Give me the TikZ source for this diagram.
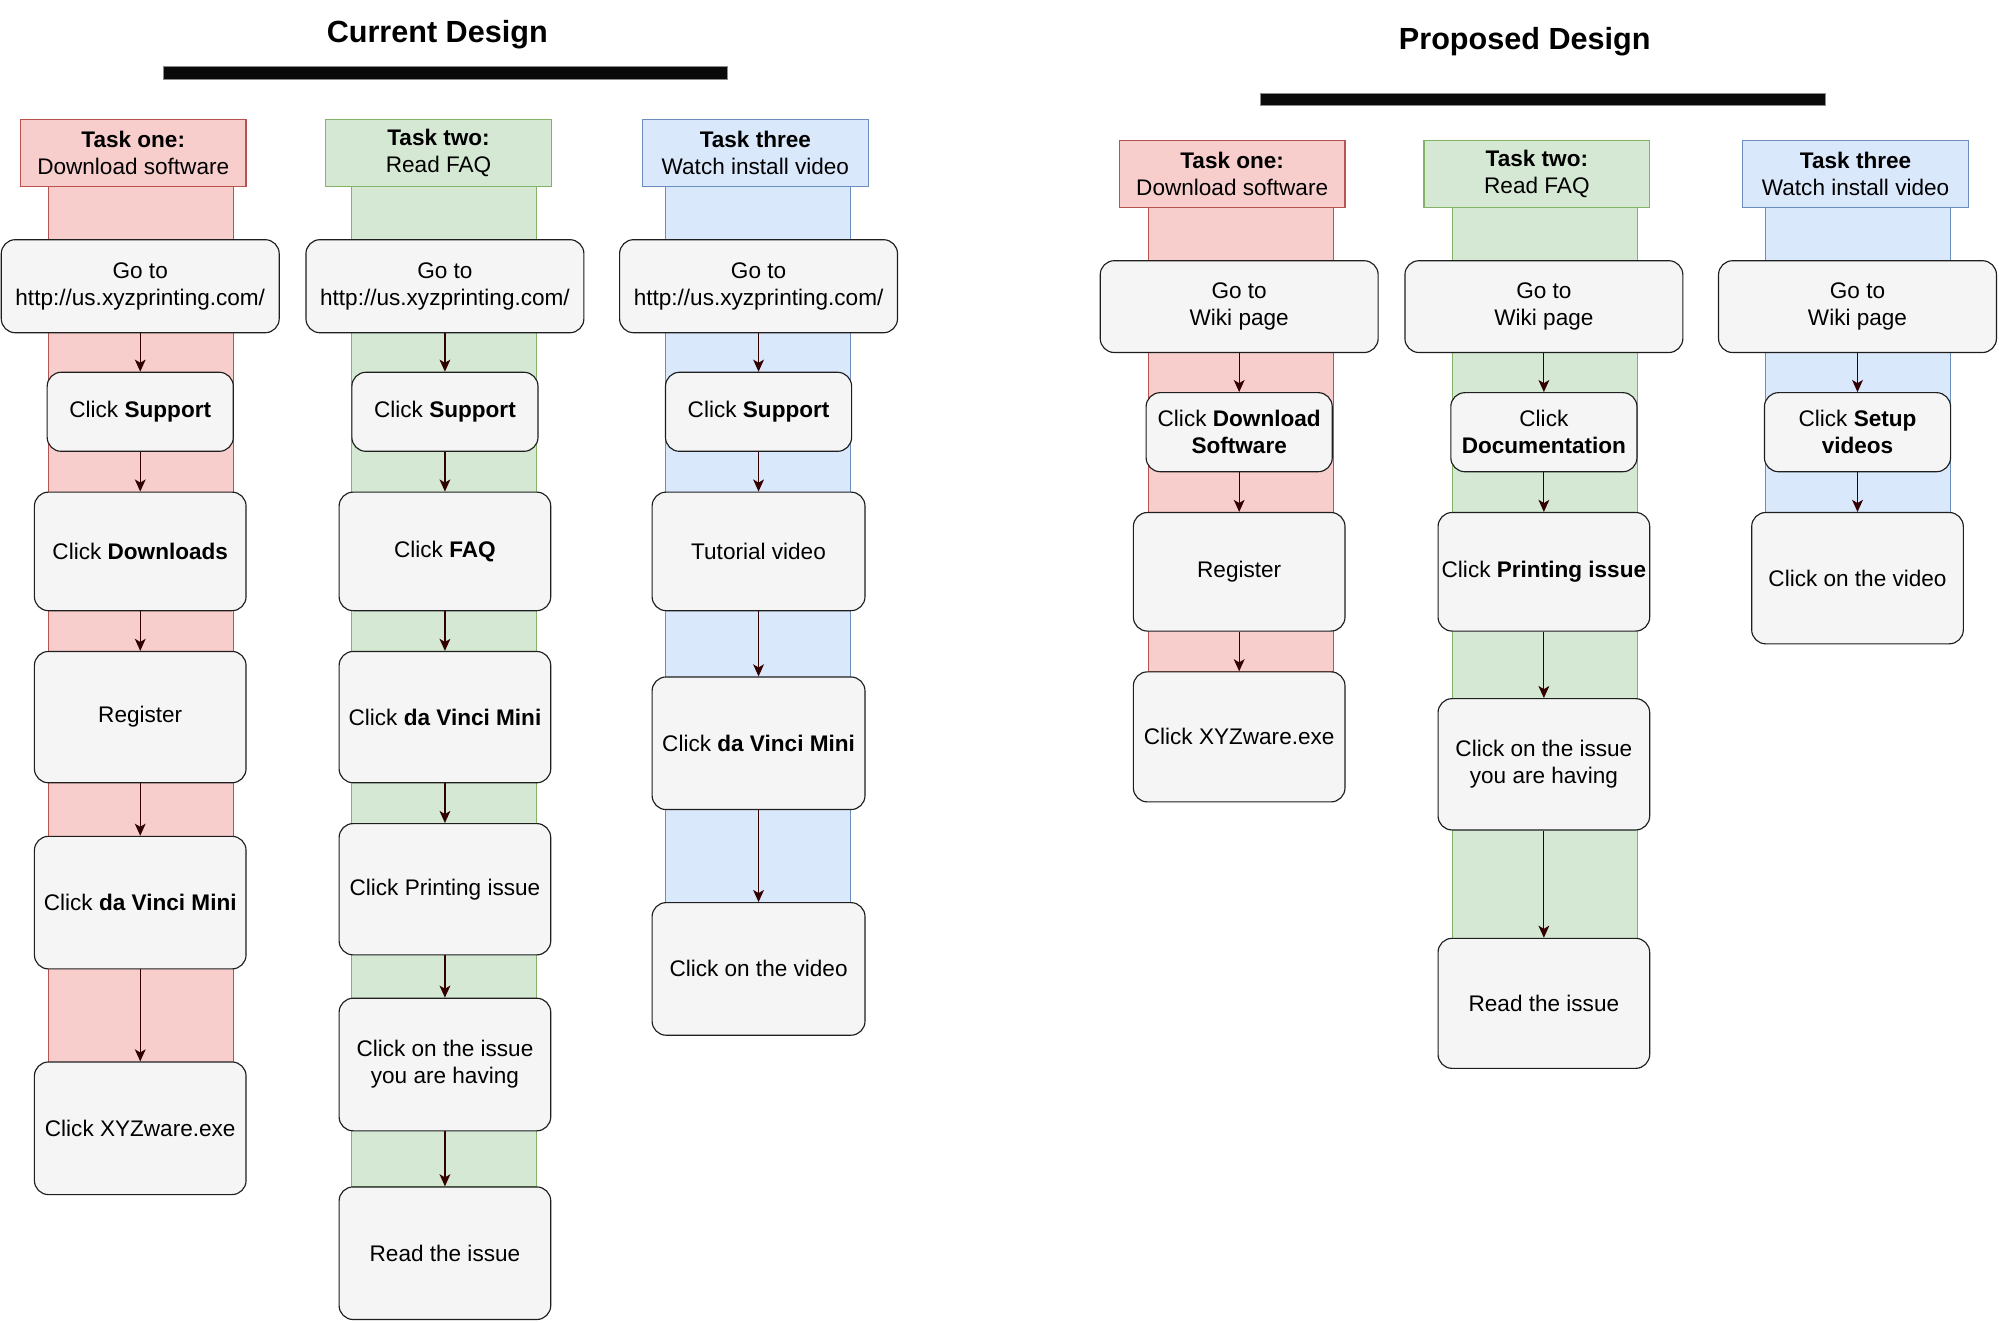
\documentclass[tikz,border=0pt]{standalone}
\usepackage{fontspec}
\setmainfont{Liberation Sans}
\usetikzlibrary{arrows.meta}
\definecolor{redfill}{HTML}{F8CECC}
\definecolor{redline}{HTML}{B85450}
\definecolor{greenfill}{HTML}{D5E8D4}
\definecolor{greenline}{HTML}{82B366}
\definecolor{bluefill}{HTML}{DAE8FC}
\definecolor{blueline}{HTML}{6C8EBF}
\definecolor{boxfill}{HTML}{F5F5F5}
\definecolor{boxline}{HTML}{1E1E1E}
\definecolor{arrowcol}{HTML}{330000}
\newcommand{\mkbox}[6]{\node[stepbox, minimum width=#4pt, minimum height=#5pt] (#1) at (#2,#3) {#6};}
\begin{document}
\begin{tikzpicture}[x=1pt,y=-1pt,
  every node/.style={font=\fontsize{17.7}{21.3}\selectfont, inner sep=0pt, align=center, text=black},
  stepbox/.style={draw=boxline, fill=boxfill, rounded corners=11pt, line width=0.9pt},
  hdrbox/.style={line width=0.9pt, minimum width=177pt, minimum height=52pt},
  titlefont/.style={font=\bfseries\fontsize{24}{28}\selectfont},
  barbox/.style={fill=black!96, draw=black!45, line width=0.8pt, minimum width=443pt, minimum height=10pt},
  lane/.style={line width=0.7pt},
  flow/.style={draw=arrowcol, line width=0.9pt, -{Stealth[length=9.5pt,width=8.5pt,inset=2.5pt]}}
]
\useasboundingbox (0,0) rectangle (1568,1037);
\fill[white] (0,0) rectangle (1568,1037);

% titles and bars
\node[titlefont] (t1) at (343,27) {Current Design};
\node[barbox] (bar1) at (349.5,57) {};
\node[titlefont] (t2) at (1196,32.5) {Proposed Design};
\node[barbox] (bar2) at (1210.5,78) {};

% lanes
\path[lane, fill=redfill, draw=redline] (38,146) rectangle (183,833);
\path[lane, fill=greenfill, draw=greenline] (276,146) rectangle (421,931);
\path[lane, fill=bluefill, draw=blueline] (522,146) rectangle (667,708);
\path[lane, fill=redfill, draw=redline] (901,162) rectangle (1046,527);
\path[lane, fill=greenfill, draw=greenline] (1139,162) rectangle (1284,736);
\path[lane, fill=bluefill, draw=blueline] (1385,162) rectangle (1530,402);

% headers
\node[hdrbox, fill=redfill, draw=redline] (c1h) at (104.5,120) {\textbf{Task one:}\\Download software};
\node[hdrbox, fill=greenfill, draw=greenline] (c2h) at (344,120) {\textbf{Task two:}\\Read FAQ};
\node[hdrbox, fill=bluefill, draw=blueline] (c3h) at (592.5,120) {\textbf{Task three}\\Watch install video};
\node[hdrbox, fill=redfill, draw=redline] (p1h) at (966.5,136.5) {\textbf{Task one:}\\Download software};
\node[hdrbox, fill=greenfill, draw=greenline] (p2h) at (1205.5,136.5) {\textbf{Task two:}\\Read FAQ};
\node[hdrbox, fill=bluefill, draw=blueline] (p3h) at (1455.5,136.5) {\textbf{Task three}\\Watch install video};

% current design, task one
\mkbox{c1a}{110}{224.5}{218}{73}{Go to\\http://us.xyzprinting.com/}
\mkbox{c1b}{110}{323}{146}{62}{Click \textbf{Support}}
\mkbox{c1c}{110}{432.5}{166}{93}{Click \textbf{Downloads}}
\mkbox{c1d}{110}{562.5}{166}{103}{Register}
\mkbox{c1e}{110}{708}{166}{104}{Click \textbf{da Vinci Mini}}
\mkbox{c1f}{110}{885}{166}{104}{Click XYZware.exe}
\draw[flow] (c1a) -- (c1b);
\draw[flow] (c1b) -- (c1c);
\draw[flow] (c1c) -- (c1d);
\draw[flow] (c1d) -- (c1e);
\draw[flow] (c1e) -- (c1f);

% current design, task two
\mkbox{c2a}{349}{224.5}{218}{73}{Go to\\http://us.xyzprinting.com/}
\mkbox{c2b}{349}{323}{146}{62}{Click \textbf{Support}}
\mkbox{c2c}{349}{432.5}{166}{93}{Click \textbf{FAQ}}
\mkbox{c2d}{349}{562.5}{166}{103}{Click \textbf{da Vinci Mini}}
\mkbox{c2e}{349}{697.5}{166}{103}{Click Printing issue}
\mkbox{c2f}{349}{835}{166}{104}{Click on the issue\\you are having}
\mkbox{c2g}{349}{983}{166}{104}{Read the issue}
\draw[flow] (c2a) -- (c2b);
\draw[flow] (c2b) -- (c2c);
\draw[flow] (c2c) -- (c2d);
\draw[flow] (c2d) -- (c2e);
\draw[flow] (c2e) -- (c2f);
\draw[flow] (c2f) -- (c2g);

% current design, task three
\mkbox{c3a}{595}{224.5}{218}{73}{Go to\\http://us.xyzprinting.com/}
\mkbox{c3b}{595}{323}{146}{62}{Click \textbf{Support}}
\mkbox{c3c}{595}{432.5}{167}{93}{Tutorial video}
\mkbox{c3d}{595}{583}{167}{104}{Click \textbf{da Vinci Mini}}
\mkbox{c3e}{595}{760}{167}{104}{Click on the video}
\draw[flow] (c3a) -- (c3b);
\draw[flow] (c3b) -- (c3c);
\draw[flow] (c3c) -- (c3d);
\draw[flow] (c3d) -- (c3e);

% proposed design, task one
\mkbox{p1a}{972}{240.5}{218}{72}{Go to\\Wiki page}
\mkbox{p1b}{972}{339}{146}{62}{Click \textbf{Download}\\\textbf{Software}}
\mkbox{p1c}{972}{448.5}{166}{93}{Register}
\mkbox{p1d}{972}{578}{166}{102}{Click XYZware.exe}
\draw[flow] (p1a) -- (p1b);
\draw[flow] (p1b) -- (p1c);
\draw[flow] (p1c) -- (p1d);

% proposed design, task two
\mkbox{p2a}{1211}{240.5}{218}{72}{Go to\\Wiki page}
\mkbox{p2b}{1211}{339}{146}{62}{Click\\\textbf{Documentation}}
\mkbox{p2c}{1211}{448.5}{166}{93}{Click \textbf{Printing issue}}
\mkbox{p2d}{1211}{599.5}{166}{103}{Click on the issue\\you are having}
\mkbox{p2e}{1211}{787}{166}{102}{Read the issue}
\draw[flow] (p2a) -- (p2b);
\draw[flow] (p2b) -- (p2c);
\draw[flow] (p2c) -- (p2d);
\draw[flow] (p2d) -- (p2e);

% proposed design, task three
\mkbox{p3a}{1457}{240.5}{218}{72}{Go to\\Wiki page}
\mkbox{p3b}{1457}{339}{146}{62}{Click \textbf{Setup}\\\textbf{videos}}
\mkbox{p3c}{1457}{453.5}{166}{103}{Click on the video}
\draw[flow] (p3a) -- (p3b);
\draw[flow] (p3b) -- (p3c);
\end{tikzpicture}
\end{document}
